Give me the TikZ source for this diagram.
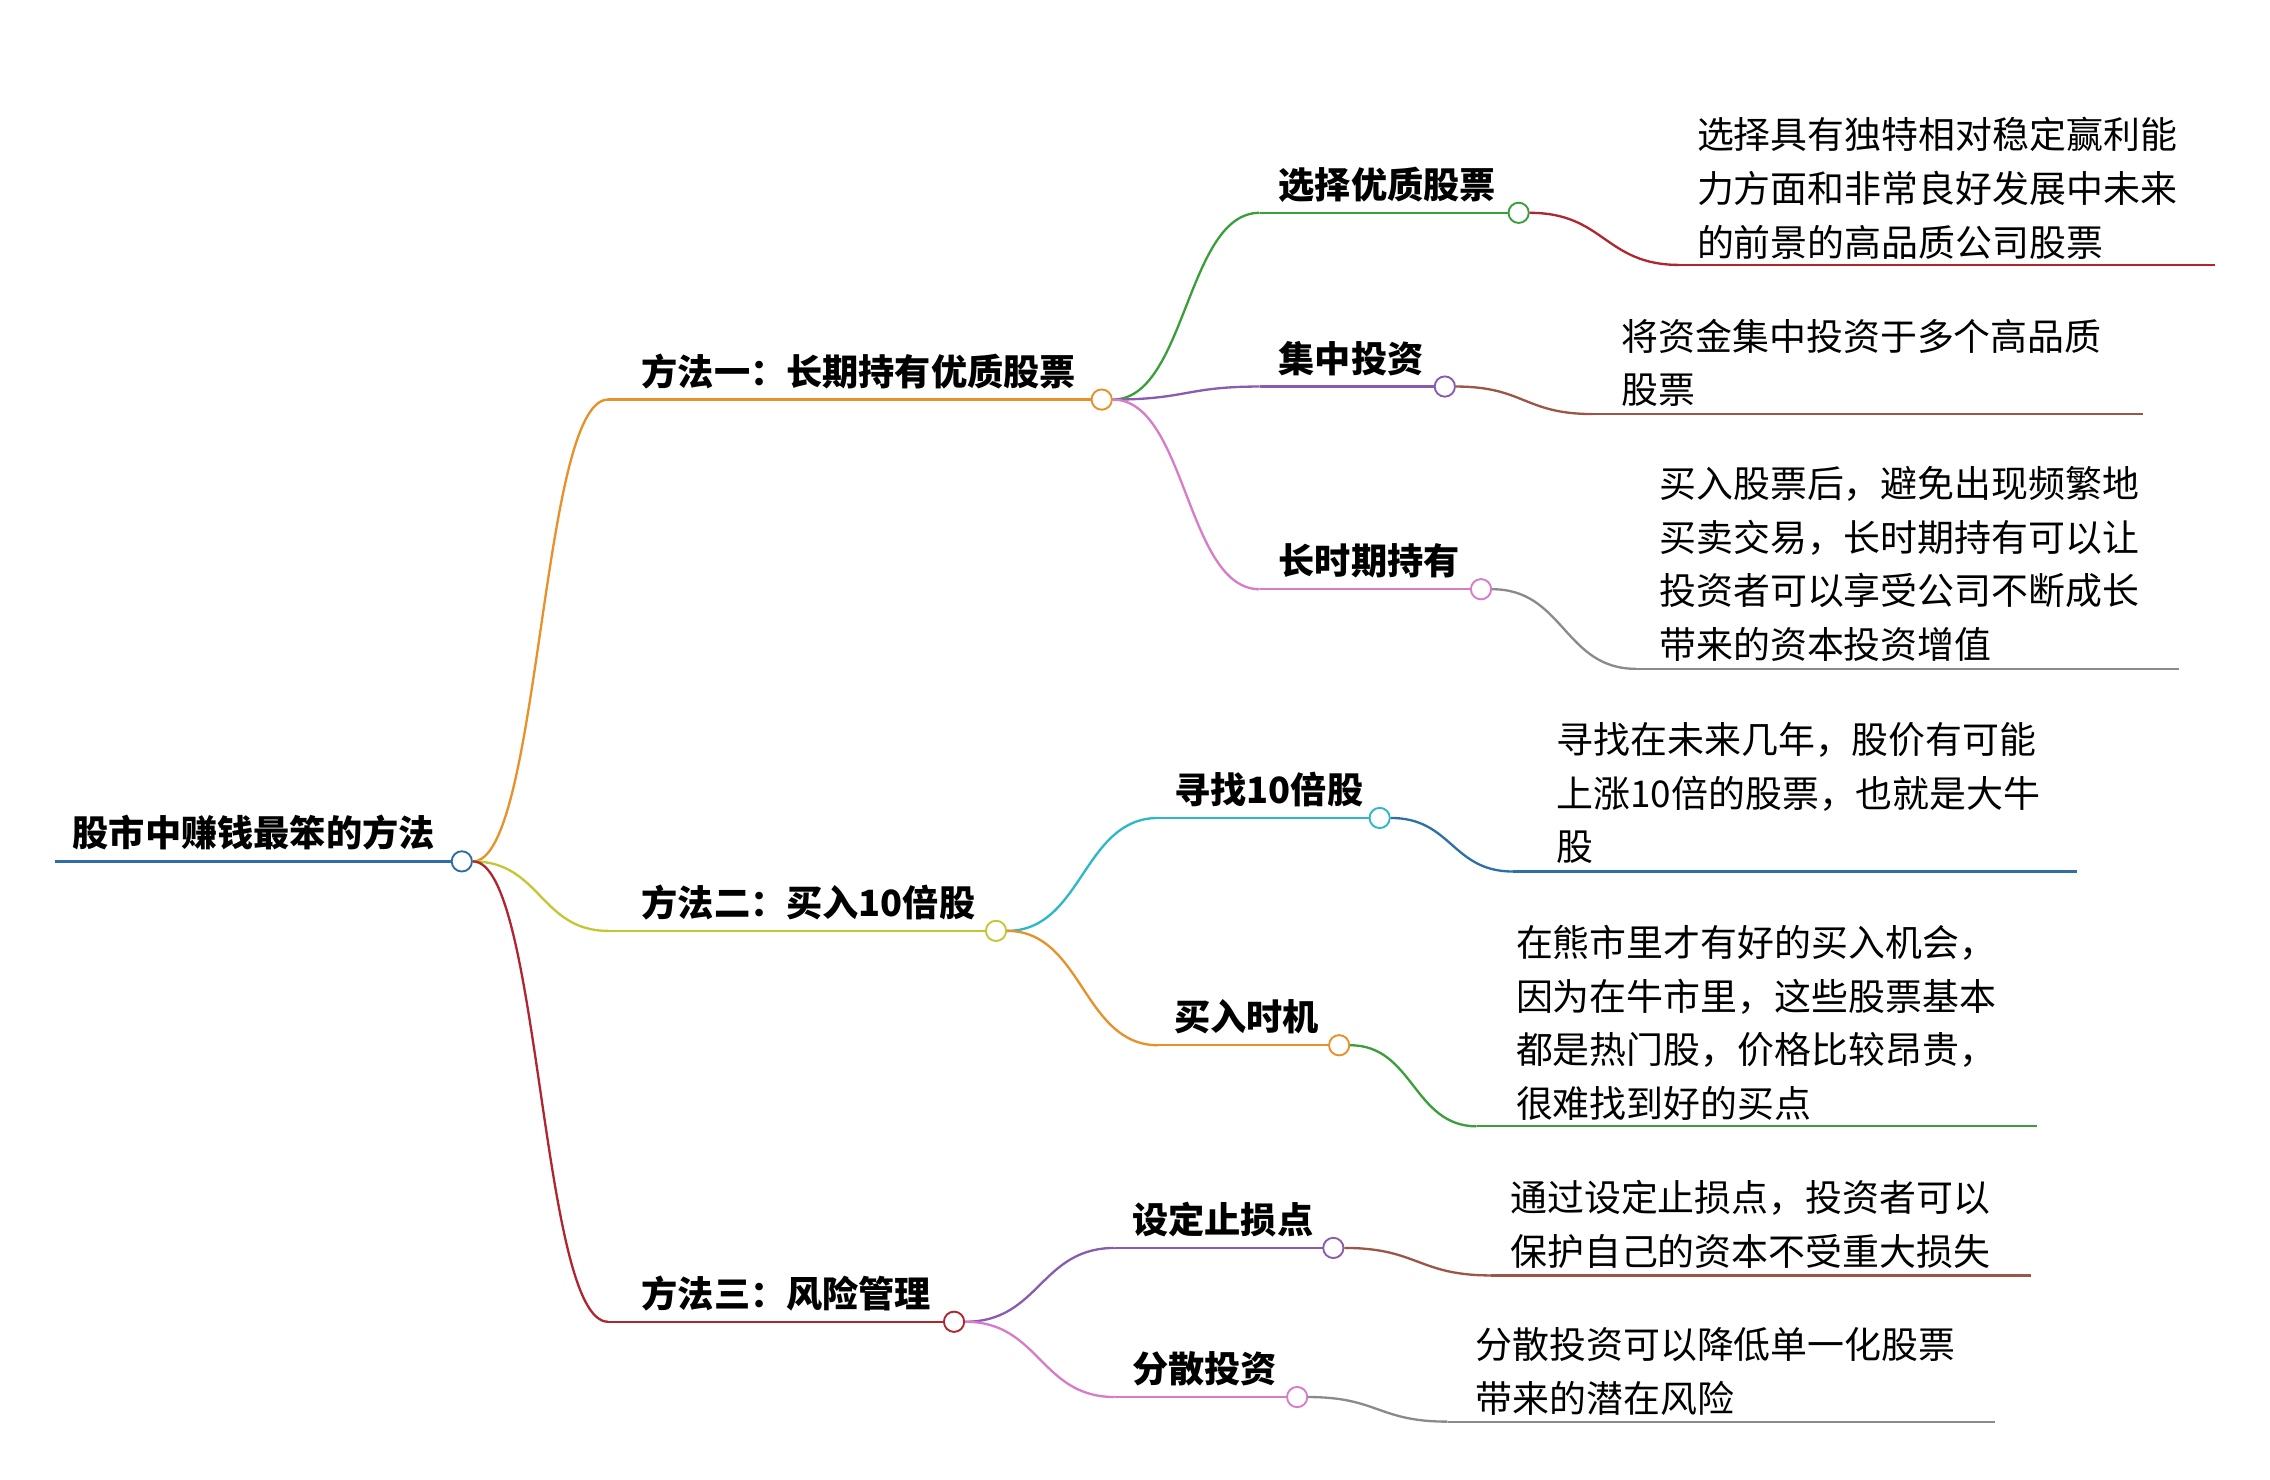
\documentclass[tikz,border=0pt]{standalone}
\usepackage{fontspec}
\setmainfont{Noto Sans CJK SC}
\usepackage{tikz}
\definecolor{cRoot}{HTML}{2F6DA8}
\definecolor{cOra}{HTML}{E8902A}
\definecolor{cLime}{HTML}{C2C834}
\definecolor{cRed}{HTML}{B0262E}
\definecolor{cGreen}{HTML}{3A9E3A}
\definecolor{cPurp}{HTML}{8A5CB0}
\definecolor{cPink}{HTML}{D77CC8}
\definecolor{cBrown}{HTML}{9A5646}
\definecolor{cGray}{HTML}{8A8A8A}
\definecolor{cCyan}{HTML}{2CB8C8}
\definecolor{cBlue}{HTML}{2E6FA6}
\tikzset{
  knob/.style={circle,draw=#1,fill=white,line width=1.3pt,inner sep=0pt,minimum size=14pt},
  lbl/.style={anchor=base west,font=\fontsize{25}{29}\selectfont\bfseries,inner sep=0pt},
  leaf/.style={anchor=north west,align=left,font=\fontsize{25.5}{37}\selectfont,inner sep=0pt},
  wire/.style={line width=1.6pt}
}
\newcommand{\branch}[5]{% name, x0, x1, y, colour
  \coordinate (#1a) at (#2,#4);
  \draw[wire,#5] (#1a) -- (#3,#4);
  \node[knob=#5] (#1) at (#3,#4) {};}
\newcommand{\link}[3]{% from, to, colour
  \draw[wire,#3] (#1.east) .. controls ($(#1.east)!0.5!(#1.east-|#2)$) and ($(#2)!0.5!(#2-|#1.east)$) .. (#2);}
\usetikzlibrary{calc}
\begin{document}
\begin{tikzpicture}[x=1pt,y=-1pt]
\useasboundingbox (0,0) rectangle (1568,1022);

% root
\branch{R}{38}{319}{595}{cRoot}
\node[lbl] at (50,585) {股市中赚钱最笨的方法};

% level one
\branch{M1}{420}{761}{276}{cOra}
\node[lbl] at (443,266) {方法一：长期持有优质股票};
\branch{M2}{420}{688}{643}{cLime}
\node[lbl] at (443,633) {方法二：买入10倍股};
\branch{M3}{420}{659}{913}{cRed}
\node[lbl] at (443,903) {方法三：风险管理};
\link{R}{M1a}{cOra}
\link{R}{M2a}{cLime}
\link{R}{M3a}{cRed}

% level two
\branch{A1}{870}{1049}{147}{cGreen}
\node[lbl] at (883,137) {选择优质股票};
\branch{A2}{870}{998}{267}{cPurp}
\node[lbl] at (883,257) {集中投资};
\branch{A3}{870}{1023}{407}{cPink}
\node[lbl] at (883,397) {长时期持有};
\link{M1}{A1a}{cGreen}
\link{M1}{A2a}{cPurp}
\link{M1}{A3a}{cPink}

\branch{B1}{800}{953}{565}{cCyan}
\node[lbl] at (811,555) {寻找10倍股};
\branch{B2}{800}{925}{722}{cOra}
\node[lbl] at (811,712) {买入时机};
\link{M2}{B1a}{cCyan}
\link{M2}{B2a}{cOra}

\branch{C1}{770}{921}{862}{cPurp}
\node[lbl] at (782,852) {设定止损点};
\branch{C2}{770}{896}{965}{cPink}
\node[lbl] at (782,955) {分散投资};
\link{M3}{C1a}{cPurp}
\link{M3}{C2a}{cPink}

% leaves
\coordinate (LA1) at (1160,183); \draw[wire,cRed] (LA1) -- (1530,183);
\node[leaf] (TA1) at (1172,81) {选择具有独特相对稳定赢利能\\力方面和非常良好发展中未来\\的前景的高品质公司股票};
\link{A1}{LA1}{cRed}
\coordinate (LA2) at (1100,286); \draw[wire,cBrown] (LA2) -- (1480,286);
\node[leaf] (TA2) at (1120,220) {将资金集中投资于多个高品质\\股票};
\link{A2}{LA2}{cBrown}
\coordinate (LA3) at (1130,462); \draw[wire,cGray] (LA3) -- (1505,462);
\node[leaf] (TA3) at (1146,322) {买入股票后，避免出现频繁地\\买卖交易，长时期持有可以让\\投资者可以享受公司不断成长\\带来的资本投资增值};
\link{A3}{LA3}{cGray}
\coordinate (LB1) at (1045,602); \draw[wire,cBlue] (LB1) -- (1435,602);
\node[leaf] (TB1) at (1075,499) {寻找在未来几年，股价有可能\\上涨10倍的股票，也就是大牛\\股};
\link{B1}{LB1}{cBlue}
\coordinate (LB2) at (1020,778); \draw[wire,cGreen] (LB2) -- (1407,778);
\node[leaf] (TB2) at (1047,639) {在熊市里才有好的买入机会，\\因为在牛市里，这些股票基本\\都是热门股，价格比较昂贵，\\很难找到好的买点};
\link{B2}{LB2}{cGreen}
\coordinate (LC1) at (1030,881); \draw[wire,cBrown] (LC1) -- (1403,881);
\node[leaf] (TC1) at (1043,815) {通过设定止损点，投资者可以\\保护自己的资本不受重大损失};
\link{C1}{LC1}{cBrown}
\coordinate (LC2) at (1000,982); \draw[wire,cGray] (LC2) -- (1378,982);
\node[leaf] (TC2) at (1019,917) {分散投资可以降低单一化股票\\带来的潜在风险};
\link{C2}{LC2}{cGray}
\end{tikzpicture}
\end{document}
